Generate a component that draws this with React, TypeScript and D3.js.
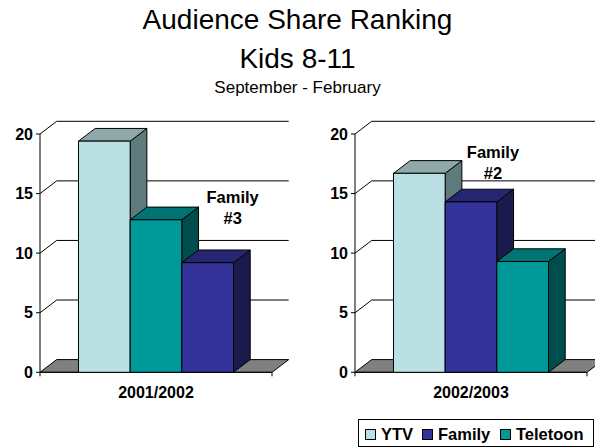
import React from "react";
import * as d3 from "d3";

const seriesNames = ["YTV", "Family", "Teletoon"];
const years = ["2001/2002", "2002/2003"];
const ytvValues = [19.4, 16.7];
const familyValues = [9.2, 14.3];
const teletoonValues = [12.8, 9.3];
const annotations = ["Family\n#3", "Family\n#2"];
const yTicks = [0, 5, 10, 15, 20];

const colors: Record<string, { front: string; top: string; side: string }> = {
  YTV: { front: "#BBE0E3", top: "#8FA8AA", side: "#5E7A7C" },
  Family: { front: "#333399", top: "#262673", side: "#1A1A4D" },
  Teletoon: { front: "#009999", top: "#007373", side: "#004D4D" },
};

const W = 595;
const H = 447;
const FONT = "'Liberation Sans', Arial, Helvetica, sans-serif";
const DX = 16.7;
const DY = -12.7;
const PLOT_W = 232;
const panelX0 = [40, 355];
const annoPos = [
  { dx: 25, y: 203 },
  { dx: 22, y: 157.5 },
];

function Panel({ idx }: { idx: number }) {
  const x0 = panelX0[idx];
  const values: Record<string, number> = {
    YTV: ytvValues[idx],
    Family: familyValues[idx],
    Teletoon: teletoonValues[idx],
  };
  const order = [...seriesNames].sort((a, b) => values[b] - values[a]);
  const y = d3.scaleLinear().domain([0, 20]).range([372.3, 134]);
  const x = d3
    .scaleBand<string>()
    .domain(order)
    .range([x0, x0 + PLOT_W])
    .paddingInner(0)
    .paddingOuter(0.745);
  const bw = x.bandwidth();
  const y0 = y(0);
  const pts = (arr: [number, number][]) => arr.map((p) => p.join(",")).join(" ");
  const famX = (x("Family") as number) + bw / 2 + annoPos[idx].dx;
  const lines = annotations[idx].split("\n");
  return (
    <g>
      {/* gridlines */}
      {yTicks
        .filter((t) => t > 0)
        .map((t) => (
          <g key={t}>
            <line x1={x0} y1={y(t)} x2={x0 + DX} y2={y(t) + DY} stroke="#000" strokeWidth={1} />
            <line
              x1={x0 + DX}
              y1={y(t) + DY}
              x2={x0 + PLOT_W + DX}
              y2={y(t) + DY}
              stroke="#000"
              strokeWidth={1}
            />
          </g>
        ))}
      {/* floor */}
      <polygon
        points={pts([
          [x0, y0],
          [x0 + DX, y0 + DY],
          [x0 + PLOT_W + DX, y0 + DY],
          [x0 + PLOT_W, y0],
        ])}
        fill="#808080"
        stroke="#000"
        strokeWidth={1}
        strokeLinejoin="round"
      />
      {/* value axis */}
      <line x1={x0} y1={y(20)} x2={x0} y2={y0 + 4} stroke="#000" strokeWidth={1} />
      {yTicks.map((t) => (
        <g key={"t" + t}>
          <line x1={x0 - 4} y1={y(t)} x2={x0} y2={y(t)} stroke="#000" strokeWidth={1} />
          <text
            x={x0 - 7}
            y={y(t)}
            dy="0.36em"
            textAnchor="end"
            fontFamily={FONT}
            fontWeight="bold"
            fontSize={16}
            fill="#000"
          >
            {t}
          </text>
        </g>
      ))}
      <line x1={x0} y1={y0} x2={x0 + PLOT_W} y2={y0} stroke="#000" strokeWidth={1} />
      <line x1={x0 + PLOT_W} y1={y0} x2={x0 + PLOT_W} y2={y0 + 4} stroke="#000" strokeWidth={1} />
      {/* bars */}
      {order.map((s) => {
        const bx = x(s) as number;
        const yt = y(values[s]);
        const c = colors[s];
        return (
          <g key={s} stroke="#000" strokeWidth={1} strokeLinejoin="round">
            <polygon
              points={pts([
                [bx + bw, yt],
                [bx + bw + DX, yt + DY],
                [bx + bw + DX, y0 + DY],
                [bx + bw, y0],
              ])}
              fill={c.side}
            />
            <polygon
              points={pts([
                [bx, yt],
                [bx + DX, yt + DY],
                [bx + bw + DX, yt + DY],
                [bx + bw, yt],
              ])}
              fill={c.top}
            />
            <rect x={bx} y={yt} width={bw} height={y0 - yt} fill={c.front} />
          </g>
        );
      })}
      {/* category label */}
      <text
        x={x0 + PLOT_W / 2}
        y={397.5}
        textAnchor="middle"
        fontFamily={FONT}
        fontWeight="bold"
        fontSize={16}
        fill="#000"
      >
        {years[idx]}
      </text>
      {/* annotation */}
      {lines.map((l, i) => (
        <text
          key={i}
          x={famX}
          y={annoPos[idx].y + i * 21}
          textAnchor="middle"
          fontFamily={FONT}
          fontWeight="bold"
          fontSize={16.5}
          fill="#000"
        >
          {l}
        </text>
      ))}
    </g>
  );
}

export default function App() {
  const legendX = [365, 422, 500];
  return (
    <svg
      width={W}
      height={H}
      viewBox={`0 0 ${W} ${H}`}
      style={{ position: "absolute", left: 0, top: 0, background: "#fff" }}
    >
      <rect x={0} y={0} width={W} height={H} fill="#fff" />
      <text x={297.5} y={29.3} textAnchor="middle" fontFamily={FONT} fontSize={28} fill="#000">
        Audience Share Ranking
      </text>
      <text x={297.5} y={68.3} textAnchor="middle" fontFamily={FONT} fontSize={28} fill="#000">
        Kids 8-11
      </text>
      <text x={297.5} y={93.3} textAnchor="middle" fontFamily={FONT} fontSize={17} fill="#000">
        September - February
      </text>
      <Panel idx={0} />
      <Panel idx={1} />
      {/* legend */}
      <rect x={358.5} y={419.5} width={235} height={27} fill="#fff" stroke="#000" strokeWidth={1} />
      {seriesNames.map((s, i) => (
        <g key={s}>
          <rect
            x={legendX[i] + 0.5}
            y={429.5}
            width={10}
            height={10}
            fill={colors[s].front}
            stroke="#000"
            strokeWidth={1}
          />
          <text
            x={legendX[i] + 16}
            y={440}
            fontFamily={FONT}
            fontWeight="bold"
            fontSize={16.5}
            fill="#000"
          >
            {s}
          </text>
        </g>
      ))}
    </svg>
  );
}
